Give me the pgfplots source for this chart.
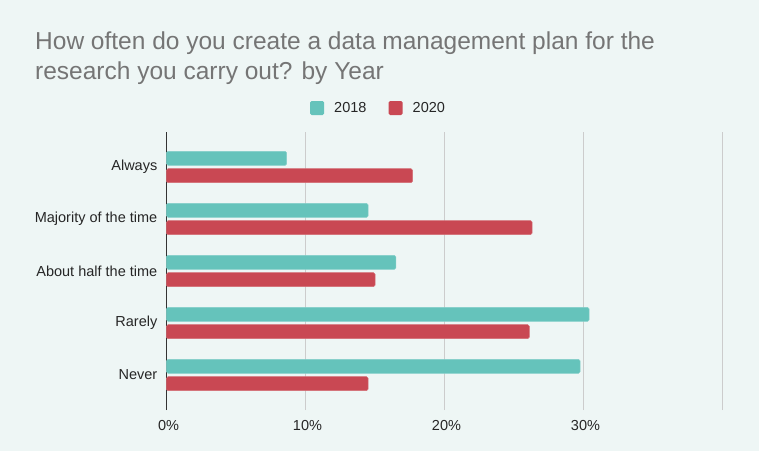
\documentclass[border=0pt]{standalone}
\usepackage{pgfplots}
\pgfplotsset{compat=1.18}
\usepackage{fontspec}
\setmainfont{Liberation Sans}
\definecolor{bg}{HTML}{EEF6F5}
\definecolor{teal18}{HTML}{65C3BB}
\definecolor{red20}{HTML}{C94853}
\definecolor{titlegray}{HTML}{757575}
\definecolor{gridgray}{HTML}{CCCCCC}
\definecolor{axisdark}{HTML}{333333}
\begin{document}
\begin{tikzpicture}[x=1pt,y=1pt]
\begin{scope}[shift={(-166.5pt,-41pt)}]
\fill[bg] (0,0) rectangle (759,451);
\node[anchor=base west, text=titlegray, font=\fontsize{24.5}{28}\selectfont, inner sep=0pt] at (35,451-49) {How often do you create a data management plan for the};
\node[anchor=base west, text=titlegray, font=\fontsize{24.5}{28}\selectfont, inner sep=0pt] at (35,451-79) {research you carry out? by Year};
% legend
\fill[teal18, rounded corners=1.5pt] (310,451-115) rectangle (324,451-101);
\node[anchor=west, inner sep=0pt, font=\fontsize{14.5}{17}\selectfont, text=black!85] at (334,451-108) {2018};
\fill[red20, rounded corners=1.5pt] (388.5,451-115) rectangle (402.5,451-101);
\node[anchor=west, inner sep=0pt, font=\fontsize{14.5}{17}\selectfont, text=black!85] at (412.5,451-108) {2020};
\end{scope}
\begin{axis}[
  scale only axis, width=556pt, height=278pt,
  xmin=0, xmax=40,
  ymin=-0.673, ymax=4.673,
  xbar, bar width=14pt,
  axis line style={draw=none},
  major tick length=0pt,
  xtick={10,20,30,40},
  xticklabels={10\%,20\%,30\%,{}},
  extra x ticks={0},
  extra x tick labels={0\%},
  extra x tick style={grid style={axisdark, line width=1.2pt}},
  xmajorgrids,
  grid style={gridgray, line width=0.9pt},
  ytick={0,1,2,3,4},
  yticklabels={Never,Rarely,About half the time,Majority of the time,Always},
  ticklabel style={font=\fontsize{14.5}{17}\selectfont, text=black!85},
  yticklabel style={anchor=east, inner sep=0pt, xshift=-9pt},
  xticklabel style={anchor=north, inner sep=0pt, yshift=-10pt, xshift=2pt},
  clip=false,
]
\addplot[fill=teal18, draw=teal18!80!white, line width=0.5pt, rounded corners=1.5pt, bar shift=8.65pt]
  coordinates {(29.75,0) (30.4,1) (16.5,2) (14.5,3) (8.65,4)};
\addplot[fill=red20, draw=red20!80!white, line width=0.5pt, rounded corners=1.5pt, bar shift=-8.65pt]
  coordinates {(14.5,0) (26.1,1) (15.0,2) (26.3,3) (17.7,4)};
\end{axis}
\end{tikzpicture}
\end{document}
